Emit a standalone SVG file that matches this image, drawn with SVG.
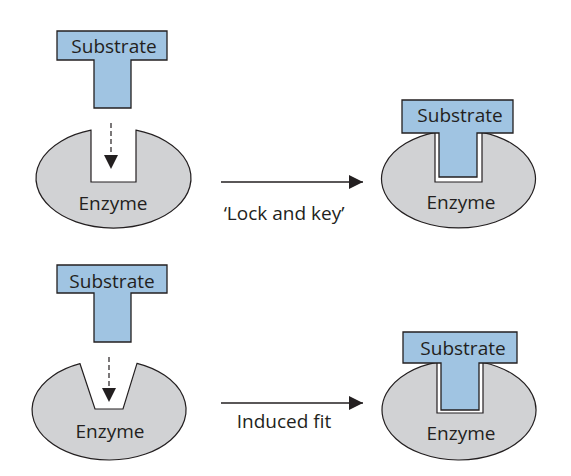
<svg xmlns="http://www.w3.org/2000/svg" width="571" height="476" viewBox="0 0 571 476">
<defs>
<marker id="ah" markerWidth="15" markerHeight="14" refX="14" refY="7" orient="auto" markerUnits="userSpaceOnUse">
<path d="M0,0 L14,7 L0,14 Z" fill="#231f20"/>
</marker>
</defs>
<style>
.enz{fill:#d1d2d4;stroke:#231f20;stroke-width:1.2}
.sub{fill:#a0c4e2;stroke:#231f20;stroke-width:1.3}
.t{font-family:"Open Sans","Noto Sans",sans-serif;font-size:19px;fill:#231f20;text-anchor:middle}
.dash{stroke:#231f20;stroke-width:1.2;stroke-dasharray:5,3;fill:none}
.ar{stroke:#231f20;stroke-width:1.3;fill:none}
</style>
<rect width="571" height="476" fill="#ffffff"/>

<g id="enzyme-lock">
<path class="enz" d="M91,130.2 L91,182 L136,182 L136,130.2 A77.5,50 0 1 1 91,130.2 Z"/>
<text class="t" x="113" y="210">Enzyme</text>
</g>
<g id="substrate-lock">
<path class="sub" d="M57,31 H167 V60 H131 V108 H94 V60 H57 Z"/>
<text class="t" x="114" y="53">Substrate</text>
</g>

<g id="complex-lock">
<path class="enz" d="M435,132.3 L435,182 L482,182 L482,132.3 A77,49 0 1 1 435,132.3 Z"/>
<path class="sub" d="M402,100 H513 V133 H477 V177 H439 V133 H402 Z"/>
<text class="t" x="460" y="122">Substrate</text>
<text class="t" x="461" y="209">Enzyme</text>
</g>

<g id="enzyme-induced">
<path class="enz" d="M80,363.7 L95,409 L123,409 L137,363.4 A77,50 0 1 1 80,363.7 Z"/>
<text class="t" x="110" y="438">Enzyme</text>
</g>
<g id="substrate-induced">
<path class="sub" d="M57,265 H167 V293 H131 V342 H94 V293 H57 Z"/>
<text class="t" x="112" y="288">Substrate</text>
</g>

<g id="complex-induced">
<path class="enz" d="M437,362.1 L437,413 L483,413 L483,362.5 A77,50 0 1 1 437,362.1 Z"/>
<path class="sub" d="M403,332 H517 V363 H479 V410 H441 V363 H403 Z"/>
<text class="t" x="463" y="355">Substrate</text>
<text class="t" x="461" y="440">Enzyme</text>
</g>

<g id="connectors">
<line class="dash" x1="111" y1="123" x2="111" y2="156"/>
<path d="M104,155 L118,155 L111,169 Z" fill="#231f20"/>
<line class="dash" x1="109" y1="357" x2="109" y2="389"/>
<path d="M102,388 L116,388 L109,402 Z" fill="#231f20"/>
<line class="ar" x1="221" y1="182" x2="363" y2="182" marker-end="url(#ah)"/>
<line class="ar" x1="221" y1="403" x2="363" y2="403" marker-end="url(#ah)"/>
<text class="t" x="284" y="220">‘Lock and key’</text>
<text class="t" x="284" y="428">Induced fit</text>
</g>
</svg>
